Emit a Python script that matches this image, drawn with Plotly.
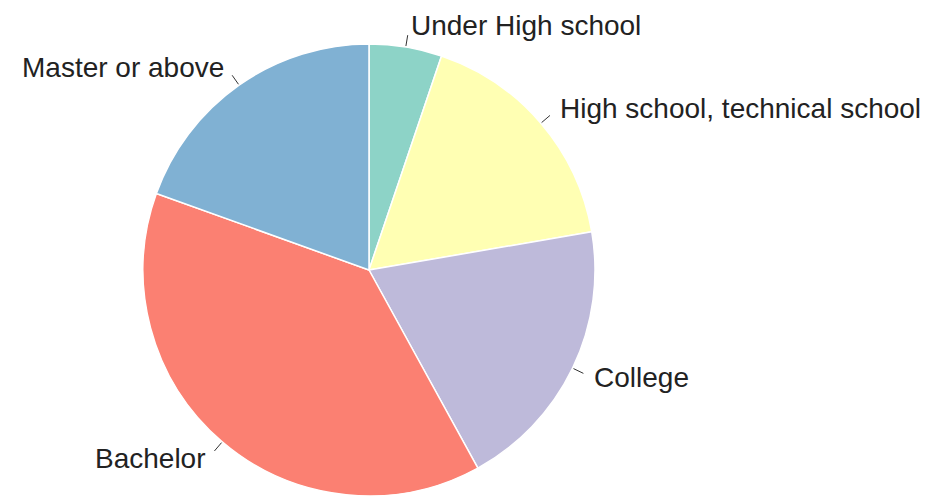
import math
import plotly.graph_objects as go

labels = ["Under High school", "High school, technical school", "College", "Bachelor", "Master or above"]
values = [5.2, 17.1, 19.7, 38.5, 19.5]
colors = ["#8DD3C7", "#FFFFB3", "#BEBADA", "#FB8072", "#80B1D3"]

W, H = 936, 498
cx, cy, R = 369, 270, 226

fig = go.Figure(go.Pie(
    labels=labels, values=values, sort=False, direction="clockwise", rotation=0,
    marker=dict(colors=colors, line=dict(color="white", width=1.5)),
    textinfo="none", hoverinfo="label+percent", showlegend=False,
    domain=dict(x=[(cx - R) / W, (cx + R) / W], y=[(H - cy - R) / H, (H - cy + R) / H]),
))

total = sum(values)
acc = 0.0
shapes, annotations = [], []
for lab, v in zip(labels, values):
    mid = (acc + v / 2) / total * 2 * math.pi
    acc += v
    s, c = math.sin(mid), math.cos(mid)
    x0, y0 = cx + (R + 1) * s, cy - (R + 1) * c
    x1, y1 = cx + (R + 12) * s, cy - (R + 12) * c
    shapes.append(dict(type="line", xref="paper", yref="paper",
                       x0=x0 / W, y0=1 - y0 / H, x1=x1 / W, y1=1 - y1 / H,
                       line=dict(color="#333333", width=1)))
    tx, ty = cx + (R + 22) * s, cy - (R + 22) * c
    annotations.append(dict(text=lab, xref="paper", yref="paper", x=tx / W, y=1 - ty / H,
                            xanchor="left" if s > 0 else "right", yanchor="middle",
                            showarrow=False,
                            font=dict(family="Liberation Sans, Arial, sans-serif", size=28, color="#222222")))

fig.update_layout(width=W, height=H, autosize=False, margin=dict(l=0, r=0, t=0, b=0),
                  paper_bgcolor="white", plot_bgcolor="white",
                  shapes=shapes, annotations=annotations)
fig.write_html("out.html")
